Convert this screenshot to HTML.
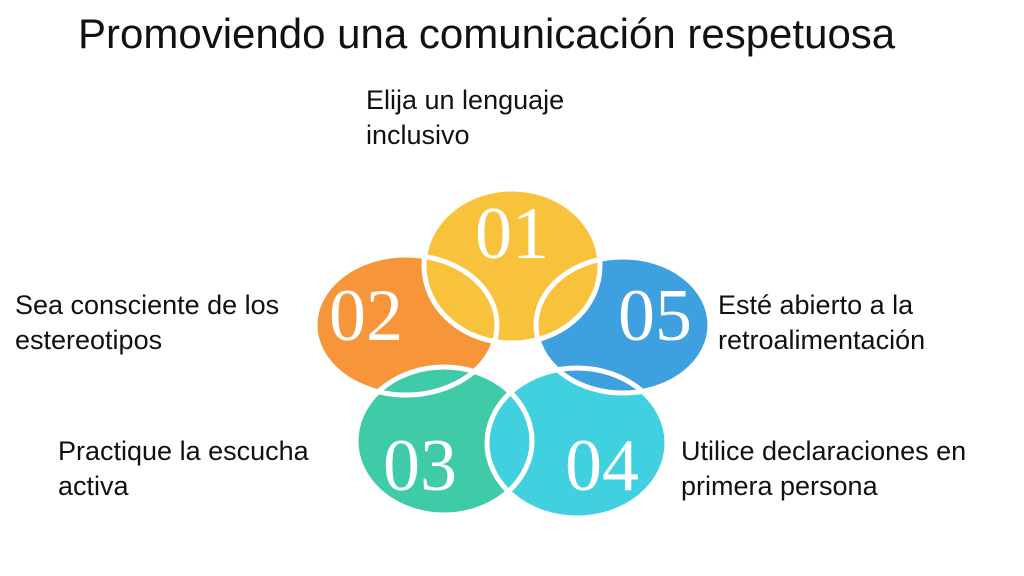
<!DOCTYPE html>
<html><head><meta charset="utf-8"><style>
body{margin:0;width:1024px;height:576px;background:#fff;overflow:hidden;position:relative;font-family:"Liberation Sans",sans-serif;color:#111}
.t{position:absolute;font-size:27px;line-height:35px}
</style></head><body>
<div style="position:absolute;left:78px;top:10px;font-size:42px;">Promoviendo una comunicación respetuosa</div>
<div class="t" style="left:366px;top:83px">Elija un lenguaje<br>inclusivo</div>
<div class="t" style="left:15px;top:288px">Sea consciente de los<br>estereotipos</div>
<div class="t" style="left:718px;top:288px">Esté abierto a la<br>retroalimentación</div>
<div class="t" style="left:58px;top:434px">Practique la escucha<br>activa</div>
<div class="t" style="left:681px;top:434px">Utilice declaraciones en<br>primera persona</div>
<svg style="position:absolute;left:0;top:0" width="1024" height="576">
<g>
<ellipse cx="406" cy="325" rx="91" ry="70" fill="#f7953a"/>
<ellipse cx="444" cy="441" rx="88" ry="74" fill="#3fcaa8"/>
<ellipse cx="577" cy="443" rx="90" ry="75" fill="#40d0e0"/>
<ellipse cx="623" cy="325" rx="87" ry="68" fill="#3fa0e0"/>
<ellipse cx="512" cy="266" rx="88" ry="77" fill="#f9c23c"/>
</g>
<g fill="none" stroke="#fff" stroke-width="5">
<ellipse cx="406" cy="325" rx="91" ry="70"/>
<ellipse cx="444" cy="441" rx="88" ry="74"/>
<ellipse cx="577" cy="443" rx="90" ry="75"/>
<ellipse cx="623" cy="325" rx="87" ry="68"/>
<ellipse cx="512" cy="266" rx="88" ry="77"/>
</g>
<g fill="#fff" font-family="Liberation Serif,serif" font-size="74" text-anchor="middle">
<text x="512" y="258">01</text>
<text x="366" y="340">02</text>
<text x="655" y="340">05</text>
<text x="420" y="490">03</text>
<text x="602" y="490">04</text>
</g>
</svg>
</body></html>
